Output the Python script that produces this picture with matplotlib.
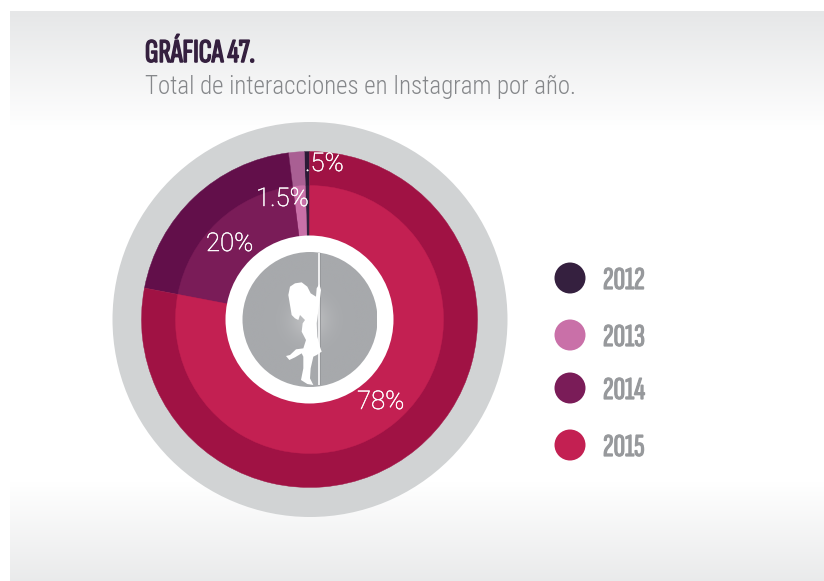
import numpy as np
import matplotlib
matplotlib.use('Agg')
import matplotlib.pyplot as plt
import matplotlib.patheffects as pe
from matplotlib.colors import LinearSegmentedColormap
from matplotlib.patches import Circle, Polygon, Rectangle

years = ['2012', '2013', '2014', '2015']
shares = [0.5, 1.5, 20, 78]
share_labels = ['.5%', '1.5%', '20%', '78%']
inner_colors = ['#35203f', '#c970a8', '#7a1c58', '#c32052']
outer_colors = ['#2b1a36', '#a95f93', '#620f4a', '#a01244']

W, H = 824, 581
CX, CY = 309.5, H - 319.5
HEAD_FONT = ['Sofia Sans Extra Condensed', 'Barlow Condensed', 'Roboto Condensed', 'DejaVu Sans']
BODY_FONT = ['Roboto Condensed', 'Roboto', 'DejaVu Sans']


def px(x, y):
    return x, H - y


def thicker(col, width):
    return [pe.withStroke(linewidth=width, foreground=col)]


fig = plt.figure(figsize=(W / 100, H / 100), dpi=100)
ax = fig.add_axes([0, 0, 1, 1])

# panel background, grey fading to white at top and bottom
grad = np.ones(570)
grad[:120] = np.linspace(0, 1, 120)
grad[470:] = np.linspace(1, 0.15, 100)
cmap = LinearSegmentedColormap.from_list('bg', ['#e6e7e8', '#ffffff'])
ax.imshow(grad.reshape(-1, 1), cmap=cmap, vmin=0, vmax=1, aspect='auto',
          extent=(10, W, H - 581, H - 11), zorder=0)

ax.add_patch(Circle((CX + 0.5, CY), 197.5, color='#d1d3d4', lw=0, zorder=1))

# outer darker ring, then lighter inner pie on top
outer, _ = ax.pie(shares, colors=outer_colors, startangle=90, radius=168, center=(CX, CY), frame=True)
inner, _ = ax.pie(shares, colors=inner_colors, startangle=90, radius=134, center=(CX, CY), frame=True)
for w in outer:
    w.set(zorder=2, edgecolor=w.get_facecolor(), linewidth=0.3)
for w in inner:
    w.set(zorder=3, edgecolor=w.get_facecolor(), linewidth=0.3)

ax.add_patch(Circle((CX, CY), 84, color='white', lw=0, zorder=4))

# grey disc with soft light in the middle
yy, xx = np.mgrid[-1:1:200j, -1:1:200j]
glow = np.exp(-(xx ** 2 + yy ** 2) / 0.08)
disc_cmap = LinearSegmentedColormap.from_list('disc', ['#a7a9ac', '#bfc0c2'])
disc = ax.imshow(glow, cmap=disc_cmap, extent=(CX - 67.5, CX + 67.5, CY - 67.5, CY + 67.5),
                 aspect='auto', zorder=5)
disc.set_clip_path(Circle((CX + 0.5, CY), 67.5, transform=ax.transData))

# pole and dancer
x0, y0 = px(318, 385)
ax.add_patch(Rectangle((x0, y0), 2.2, 132, color='#eeeeef', lw=0, zorder=7))
ax.add_patch(Rectangle((x0 + 2.2, y0), 1.2, 132, color='#97999c', lw=0, zorder=6))
dancer_z = [(225, 130), (245, 127), (262, 140), (272, 160), (288, 170), (290, 145), (298, 132),
            (303, 150), (300, 175), (296, 205), (290, 250), (292, 290), (300, 320), (305, 335),
            (290, 345), (280, 350), (272, 385), (270, 415), (280, 435), (262, 432), (243, 420),
            (250, 385), (250, 350), (245, 340), (225, 352), (208, 360), (198, 348), (210, 345),
            (228, 328), (250, 325), (258, 300), (245, 275), (248, 250), (255, 240), (240, 225),
            (235, 240), (225, 235), (215, 225), (210, 195), (205, 165), (210, 140)]
ax.add_patch(Polygon([px(220 + a / 3, 240 + b / 3) for a, b in dancer_z],
                     closed=True, color='white', lw=0, zorder=8))

# percent labels
label_pos = [(305, 164), (256, 199), (206, 244), (357, 402)]
for s, (lx, ly) in zip(share_labels, label_pos):
    tx, ty = px(lx, ly)
    ax.text(tx, ty, s, color='white', fontsize=18.5, family=['Roboto', 'DejaVu Sans'],
            fontweight='light', ha='left', va='center', zorder=9,
            path_effects=thicker('white', 0.35))

# title
tx, ty = px(145, 62)
ax.text(tx, ty, 'GRÁFICA 47.', color='#35203f', fontsize=24, family=HEAD_FONT,
        ha='left', va='baseline', zorder=9, path_effects=thicker('#35203f', 1.1))
tx, ty = px(145, 94)
ax.text(tx, ty, 'Total de interacciones en Instagram por año.', color='#85878a', fontsize=17.9,
        family=BODY_FONT, fontweight='light', ha='left', va='baseline', zorder=9)

# legend
legend_y = [278, 335, 388, 445]
for name, col, ly in zip(years, inner_colors, legend_y):
    cx, cy = px(570, ly)
    ax.add_patch(Circle((cx, cy), 15.5, color=col, lw=0, zorder=3))
    ax.text(603, cy, name, color='#97999c', fontsize=23, family=HEAD_FONT, ha='left',
            va='center_baseline', path_effects=thicker('#97999c', 0.9))

ax.set_xlim(0, W)
ax.set_ylim(0, H)
ax.set_aspect('auto')
ax.axis('off')
fig.savefig('out.png', dpi=100, facecolor='white')
